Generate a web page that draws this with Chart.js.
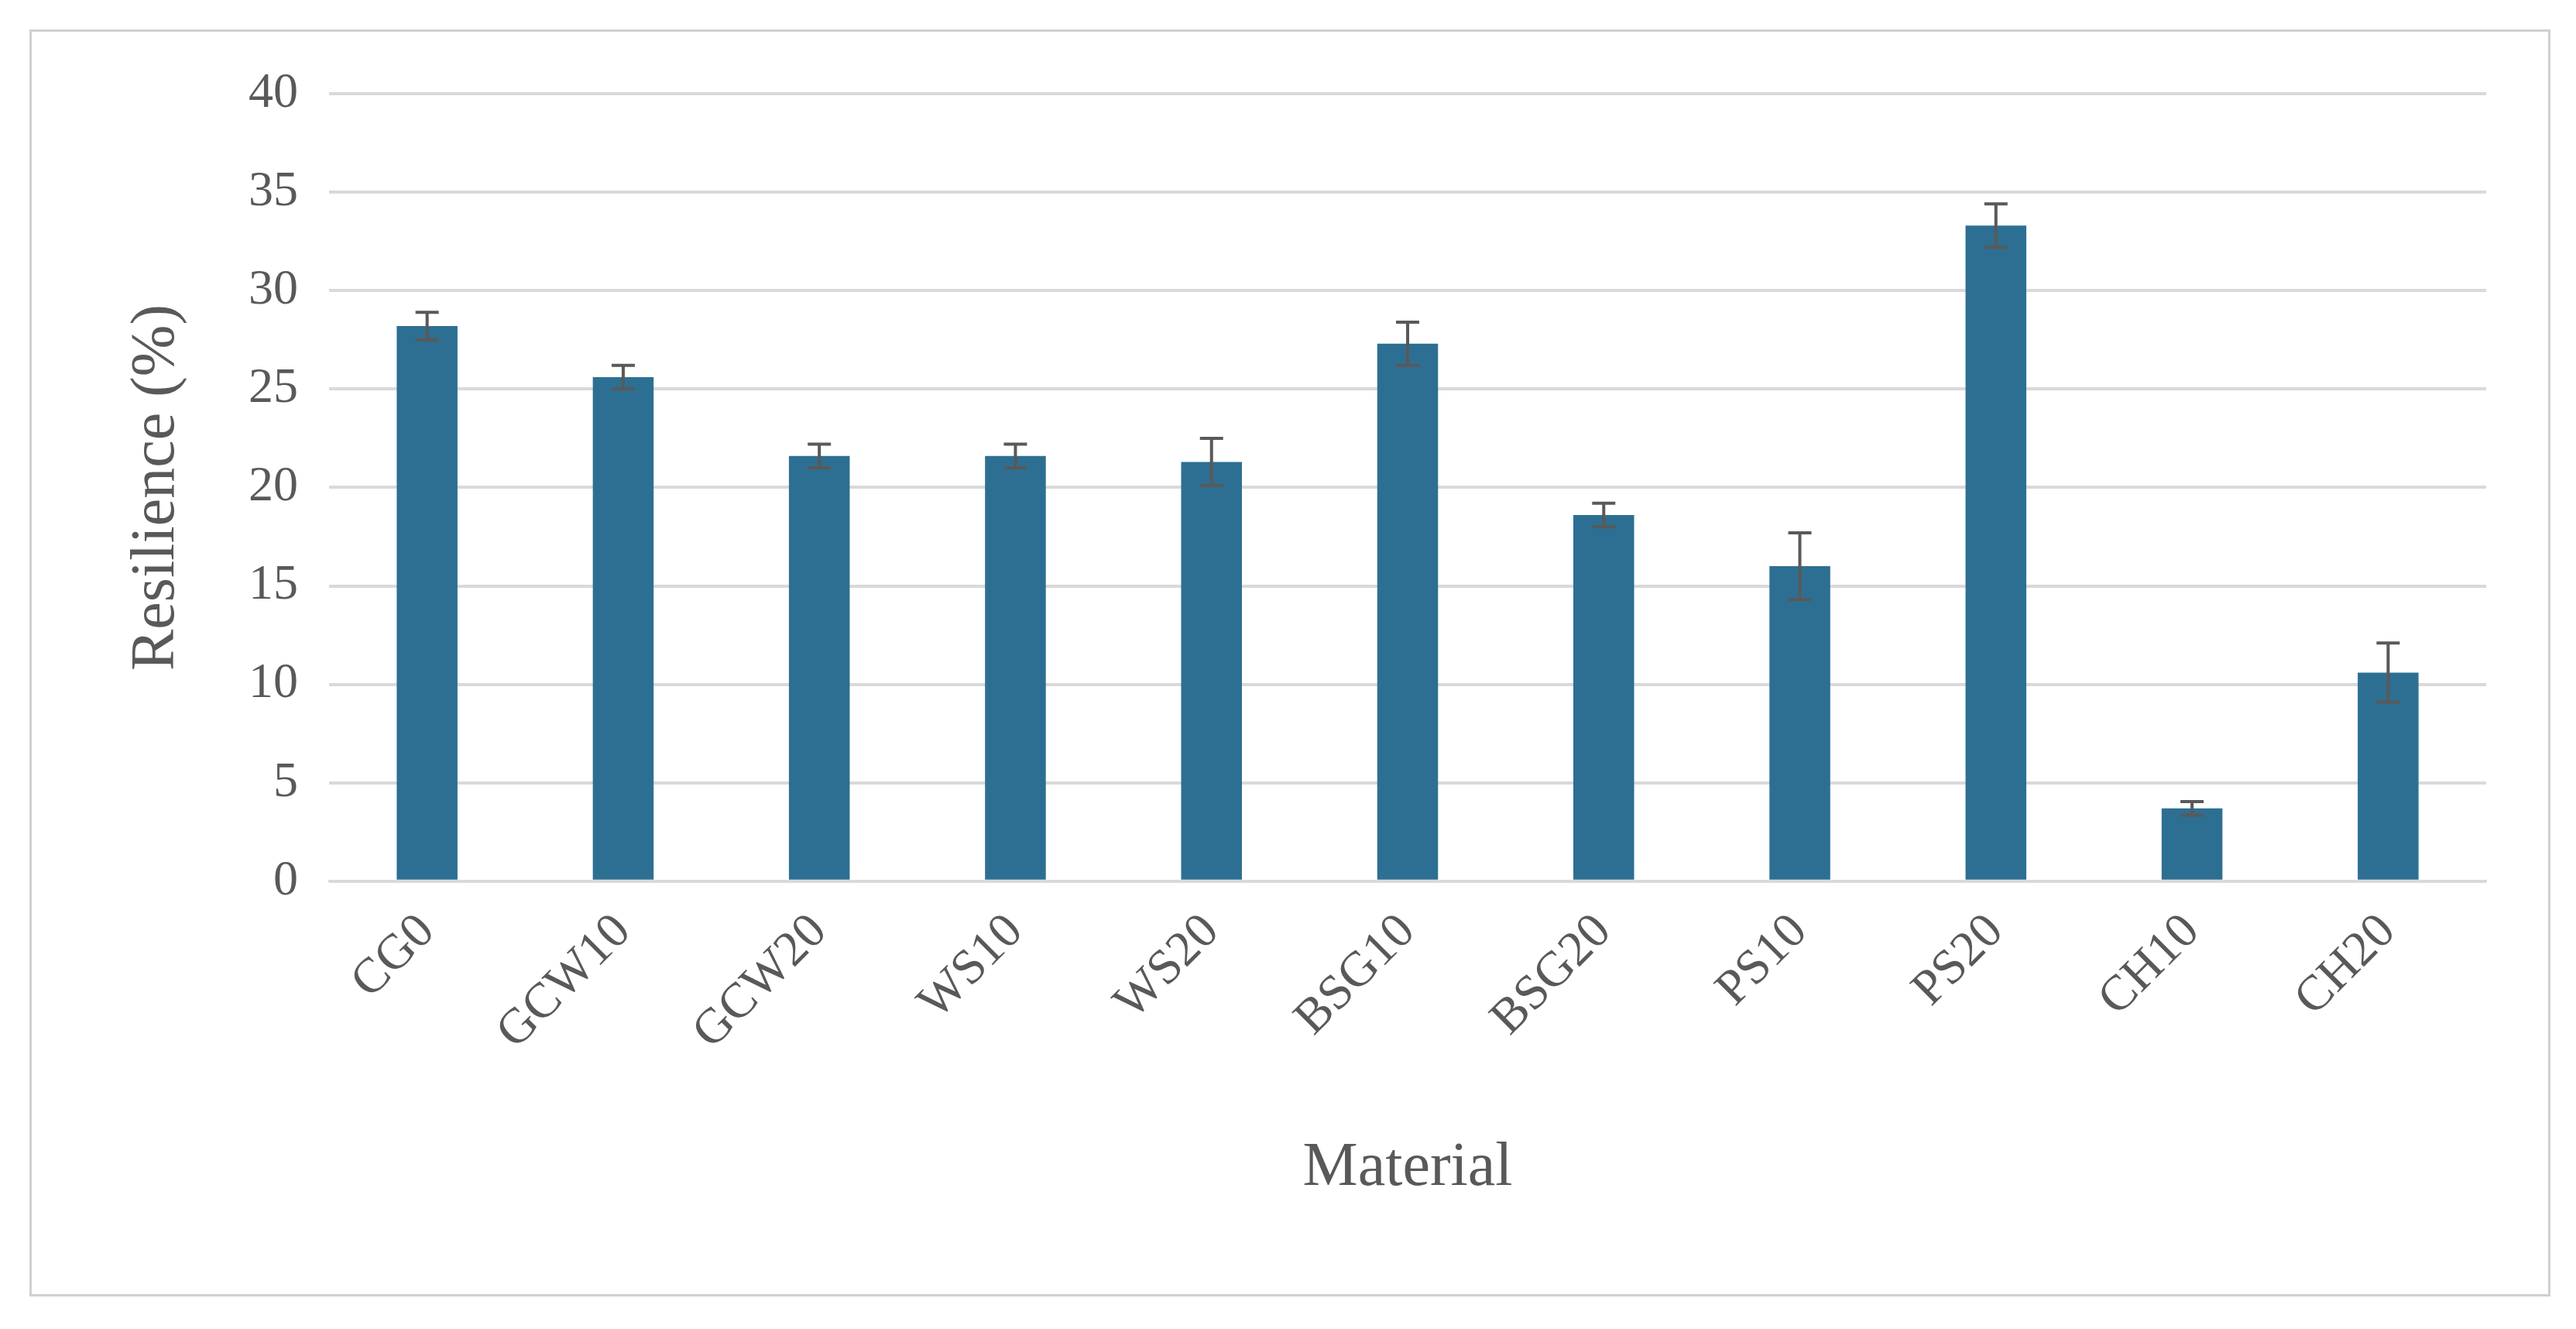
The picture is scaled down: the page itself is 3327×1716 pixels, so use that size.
<!DOCTYPE html>
<html>
<head>
<meta charset="utf-8">
<script src="https://cdn.jsdelivr.net/npm/chart.js@4"></script>
<style>
  body { margin: 0; background: #fff; }
  #frame { position: absolute; left: 38px; top: 38px; width: 3250px; height: 1630px; border: 3px solid #d0d0d0; }
  #wrap { position: absolute; left: 0; top: 0; width: 3250px; height: 1630px; }
</style>
</head>
<body>
<div id="frame"><div id="wrap"><canvas id="chart"></canvas></div></div>
<script>
// Resilience per material
const materials = ["CG0", "GCW10", "GCW20", "WS10", "WS20", "BSG10", "BSG20", "PS10", "PS20", "CH10", "CH20"];
const resilience = [28.2, 25.6, 21.6, 21.6, 21.3, 27.3, 18.6, 16.0, 33.3, 3.7, 10.6];
const errors = [0.7, 0.6, 0.6, 0.6, 1.2, 1.1, 0.6, 1.7, 1.1, 0.35, 1.5];

const textColor = "#595959";
const serif = "'Liberation Serif', 'DejaVu Serif', serif";

// Draw error bars using the chart's own scales
const errorBars = {
    id: "errorBars",
    afterDatasetsDraw(chart) {
        const ctx = chart.ctx;
        const y = chart.scales.y;
        const meta = chart.getDatasetMeta(0);
        ctx.save();
        ctx.strokeStyle = "#595959";
        ctx.lineWidth = 4;
        meta.data.forEach((bar, i) => {
            const top = y.getPixelForValue(resilience[i] + errors[i]);
            const bot = y.getPixelForValue(resilience[i] - errors[i]);
            ctx.beginPath();
            ctx.moveTo(bar.x, top); ctx.lineTo(bar.x, bot);
            ctx.moveTo(bar.x - 15, top); ctx.lineTo(bar.x + 15, top);
            ctx.moveTo(bar.x - 15, bot); ctx.lineTo(bar.x + 15, bot);
            ctx.stroke();
        });
        ctx.restore();
    }
};

new Chart(document.getElementById("chart").getContext("2d"), {
    type: "bar",
    data: {
        labels: materials,
        datasets: [{
            data: resilience,
            backgroundColor: "#2d6f92",
            categoryPercentage: 1.0,
            barPercentage: 0.31,
        }],
    },
    options: {
        responsive: true,
        maintainAspectRatio: false,
        animation: false,
        layout: { padding: { left: 110, right: 80, top: 80, bottom: 110 } },
        plugins: { legend: { display: false }, tooltip: { enabled: false } },
        scales: {
            x: {
                grid: { display: false },
                border: { color: "#d9d9d9", width: 3 },
                ticks: { color: textColor, font: { family: serif, size: 64 }, maxRotation: 45, minRotation: 45, padding: 20 },
                title: { display: true, text: "Material", color: textColor, font: { family: serif, size: 80 }, padding: { top: 70 } },
            },
            y: {
                min: 0, max: 40,
                ticks: { stepSize: 5, color: textColor, font: { family: serif, size: 64 }, padding: 40 },
                grid: { color: "#d9d9d9", lineWidth: 4, drawTicks: false },
                border: { display: false },
                title: { display: true, text: "Resilience (%)", color: textColor, font: { family: serif, size: 80 }, padding: { bottom: 30 } },
            },
        },
    },
    plugins: [errorBars],
});
</script>
</body>
</html>
